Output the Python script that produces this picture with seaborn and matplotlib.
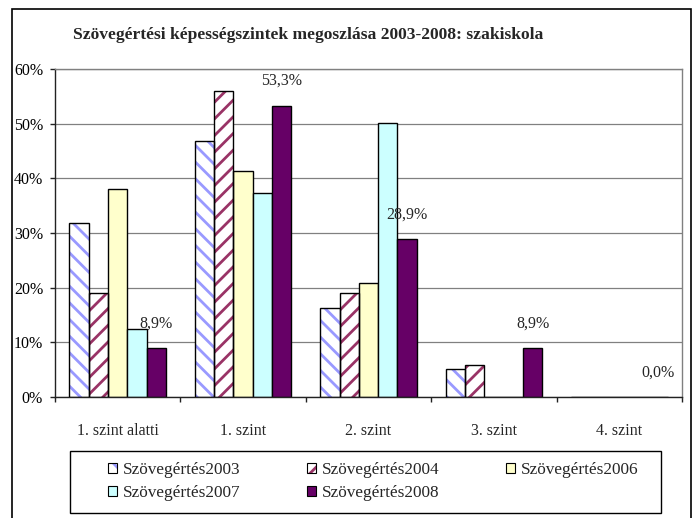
import matplotlib
matplotlib.use("Agg")
import matplotlib.pyplot as plt
import pandas as pd
import seaborn as sns
from matplotlib.patches import Rectangle, Patch

# Data (percent)
levels = ["1. szint alatti", "1. szint", "2. szint", "3. szint", "4. szint"]
series = ["Szövegértés2003", "Szövegértés2004", "Szövegértés2006",
          "Szövegértés2007", "Szövegértés2008"]
v2003 = [31.8, 46.8, 16.2, 5.1, 0.0]
v2004 = [19.0, 56.0, 19.0, 5.9, 0.0]
v2006 = [38.0, 41.3, 20.9, 0.0, 0.0]
v2007 = [12.5, 37.4, 50.2, 0.0, 0.0]
v2008 = [8.9, 53.3, 28.9, 8.9, 0.0]

face_colors = ["#FFFFFF", "#FFFFFF", "#FFFFCC", "#CCFFFF", "#660066"]
hatches = ["\\\\", "//", None, None, None]
hatch_colors = ["#9999FF", "#993366", None, None, None]

df = pd.DataFrame({
    "szint": levels * len(series),
    "sorozat": [s for s in series for _ in levels],
    "ertek": v2003 + v2004 + v2006 + v2007 + v2008,
})

sns.set_style("white")
plt.rcParams["font.family"] = ["Liberation Serif", "DejaVu Serif"]
plt.rcParams["hatch.linewidth"] = 2.0

fig = plt.figure(figsize=(6.99, 5.18), dpi=100)
ax = fig.add_axes([55 / 699, 1 - 397 / 518, 627 / 699, 328 / 518])

sns.barplot(
    data=df, x="szint", y="ertek", hue="sorozat",
    palette=face_colors, saturation=1, width=0.77,
    edgecolor="black", linewidth=1, errorbar=None,
    legend=False, ax=ax, zorder=2,
)

# hatched series: coloured hatch, black outline on top
for cont, h, hc in zip(ax.containers, hatches, hatch_colors):
    if h is None:
        continue
    for bar in cont:
        bar.set_hatch(h)
        bar.set_edgecolor(hc)
        bar.set_linewidth(0)
        ax.add_patch(Rectangle(bar.get_xy(), bar.get_width(), bar.get_height(),
                               fill=False, edgecolor="black", lw=1, zorder=3))

# labels for the 2008 series
for bar, v in zip(ax.containers[4], v2008):
    ax.annotate(f"{v:.1f}".replace(".", ",") + "%",
                (bar.get_x() + bar.get_width() / 2, bar.get_height()),
                xytext=(0, 12), textcoords="offset points",
                ha="center", va="bottom", fontsize=11.5)

ax.set_xlim(-0.5, 4.5)
ax.set_ylim(0, 60)
yt = list(range(0, 61, 10))
ax.set_yticks(yt)
ax.set_yticklabels([f"{t}%" for t in yt])
ax.set_xlabel("")
ax.set_ylabel("")
ax.yaxis.grid(True, color="#808080", lw=0.9)
ax.set_axisbelow(True)

for s in ["top", "right"]:
    ax.spines[s].set_color("#808080")
for s in ["left", "bottom"]:
    ax.spines[s].set_color("#222222")
for s in ax.spines.values():
    s.set_linewidth(1)

ax.set_xticks([i - 0.5 for i in range(6)], minor=True)
ax.tick_params(axis="y", left=True, length=3.6, width=1, pad=5,
               labelsize=11.5, colors="#222222", labelcolor="black")
ax.tick_params(axis="x", which="major", length=0, pad=19, labelsize=11.5)
ax.tick_params(axis="x", which="minor", bottom=True, length=3.6, width=1,
               color="#222222")

fig.text(73 / 699, 1 - 35 / 518,
         "Szövegértési képességszintek megoszlása 2003-2008: szakiskola",
         ha="left", va="center", fontsize=12.6, fontweight="bold")

# legend, filled row by row like the original
handles = []
for fc, h, hc in zip(face_colors, hatches, hatch_colors):
    if h is None:
        handles.append(Patch(facecolor=fc, edgecolor="black", lw=0.8))
    else:
        handles.append((Patch(facecolor=fc, edgecolor=hc, hatch=h, lw=0),
                        Patch(facecolor="none", edgecolor="black", lw=0.8)))
order = [0, 3, 1, 4, 2]
fig.legend([handles[i] for i in order], [series[i] for i in order],
           loc="upper left",
           bbox_to_anchor=(108 / 699, 0.0, 530 / 699, 1 - 462 / 518),
           mode="expand", ncol=3, frameon=False, borderpad=0, borderaxespad=0,
           handlelength=0.55, handleheight=0.55, handletextpad=0.3,
           labelspacing=0.42, prop={"family": "Liberation Serif", "size": 12.4})

fig.add_artist(Rectangle((70 / 699, 1 - 513 / 518), 591 / 699, 62 / 518,
                         transform=fig.transFigure, fill=False,
                         edgecolor="black", lw=1))
fig.add_artist(Rectangle((12 / 699, -0.1), 679 / 699, 1.1 - 9 / 518,
                         transform=fig.transFigure, fill=False,
                         edgecolor="black", lw=1.2))

fig.savefig("out.png", dpi=100)
